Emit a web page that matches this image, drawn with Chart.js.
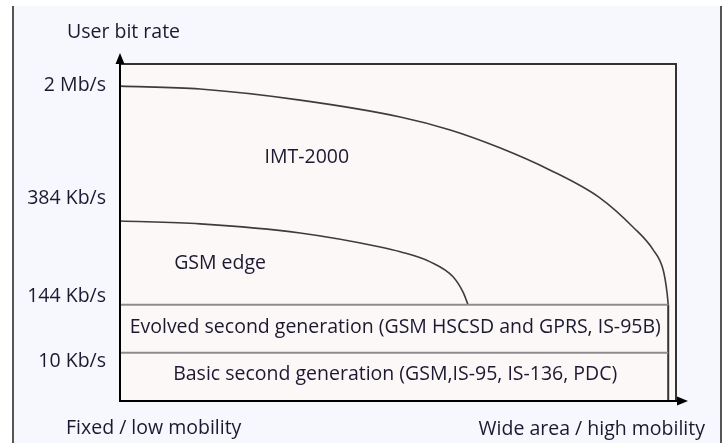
<!DOCTYPE html>
<html>
<head>
<meta charset="utf-8">
<script src="https://cdn.jsdelivr.net/npm/chart.js@4.4.0/dist/chart.umd.min.js"></script>
<style>
  html, body { margin: 0; padding: 0; background: #fff; }
  #wrap { position: relative; width: 722px; height: 443px; }
  #frame { position: absolute; left: 12px; top: 6px; width: 706px; height: 437px;
           background: #f6f8fd; border-left: 2px solid #555; border-right: 2px solid #555; }
  #chart { position: absolute; left: 0; top: 0; }
</style>
</head>
<body>
<div id="wrap">
  <div id="frame"></div>
  <canvas id="chart" width="722" height="443"></canvas>
</div>
<script>
// Skala schematyczna: oś y w "poziomach", oś x w procentach mobilności
const yTickValues = [0.83, 2.17, 4.21, 6.56];
const yTickLabels = ['10 Kb/s', '144 Kb/s', '384 Kb/s', '2 Mb/s'];

// Krzywa IMT-2000
const imtX = [0, 14.4, 32.4, 50.4, 59.4, 68.3, 77.3, 86.3, 92.3, 95.9, 97.7, 98.4, 98.6];
const imtY = [6.54, 6.48, 6.25, 5.90, 5.63, 5.26, 4.80, 4.22, 3.61, 3.14, 2.72, 2.24, 2.0];

// Krzywa GSM edge
const gsmX = [0, 14.4, 32.4, 46.8, 50.4, 55.8, 59.9, 61.7, 62.6];
const gsmY = [3.74, 3.68, 3.49, 3.20, 3.10, 2.89, 2.58, 2.26, 2.0];

// Pasy drugiej generacji
const bandLevels = [2, 1];
const bandEndX = 98.6;

// Opisy obszarów
const regionNames = ['IMT-2000', 'GSM edge',
  'Evolved second generation (GSM HSCSD and GPRS, IS-95B)',
  'Basic second generation (GSM,IS-95, IS-136, PDC)'];
const regionX = [33.6, 18, 49.5, 49.5];
const regionY = [5.05, 2.85, 1.52, 0.55];

const yTitle = 'User bit rate';
const xStartLabel = 'Fixed / low mobility';
const xEndLabel = 'Wide area / high mobility';

const FONT = '"Open Sans", sans-serif';
const FONT_SIZE = 19.5;
const TEXT = '#1b1930';

function toPoints(xs, ys) {
  return xs.map((x, i) => ({ x: x, y: ys[i] }));
}

const lineStyle = { pointRadius: 0, fill: false, borderCapStyle: 'butt' };

const datasets = [];
bandLevels.forEach(level => {
  datasets.push(Object.assign({
    data: [{ x: 0, y: level }, { x: bandEndX, y: level }],
    borderColor: '#8c8c8c', borderWidth: 2
  }, lineStyle));
});
datasets.push(Object.assign({
  data: [{ x: bandEndX, y: 0 }, { x: bandEndX, y: bandLevels[0] }],
  borderColor: '#333', borderWidth: 2
}, lineStyle));
datasets.push(Object.assign({
  data: toPoints(imtX, imtY), borderColor: '#3c3c3c', borderWidth: 1.6,
  cubicInterpolationMode: 'monotone'
}, lineStyle));
datasets.push(Object.assign({
  data: toPoints(gsmX, gsmY), borderColor: '#3c3c3c', borderWidth: 1.6,
  cubicInterpolationMode: 'monotone'
}, lineStyle));

// Tło obszaru, ramka, strzałki osi i napisy
const schemePlugin = {
  id: 'scheme',
  beforeDraw(chart) {
    const { ctx, chartArea: a } = chart;
    ctx.save();
    ctx.fillStyle = '#fdf8f8';
    ctx.fillRect(a.left, a.top, a.right - a.left, a.bottom - a.top);
    ctx.restore();
  },
  afterDatasetsDraw(chart) {
    const { ctx, chartArea: a } = chart;
    const xs = chart.scales.x, ys = chart.scales.y;
    ctx.save();
    // górna i prawa krawędź
    ctx.strokeStyle = '#333';
    ctx.lineWidth = 2;
    ctx.beginPath();
    ctx.moveTo(a.left, a.top);
    ctx.lineTo(a.right, a.top);
    ctx.lineTo(a.right, a.bottom);
    ctx.stroke();
    // osie
    ctx.strokeStyle = '#000';
    ctx.beginPath();
    ctx.moveTo(a.left, a.top - 4);
    ctx.lineTo(a.left, a.bottom);
    ctx.lineTo(a.right + 4, a.bottom);
    ctx.stroke();
    ctx.fillStyle = '#000';
    ctx.beginPath();
    ctx.moveTo(a.left, a.top - 11);
    ctx.lineTo(a.left - 4.5, a.top);
    ctx.lineTo(a.left + 4.5, a.top);
    ctx.closePath();
    ctx.fill();
    ctx.beginPath();
    ctx.moveTo(a.right + 12, a.bottom);
    ctx.lineTo(a.right + 1, a.bottom - 4.5);
    ctx.lineTo(a.right + 1, a.bottom + 4.5);
    ctx.closePath();
    ctx.fill();

    ctx.fillStyle = TEXT;
    ctx.font = FONT_SIZE + 'px ' + FONT;
    ctx.textBaseline = 'middle';
    ctx.textAlign = 'center';
    regionNames.forEach((name, i) => {
      ctx.fillText(name, xs.getPixelForValue(regionX[i]), ys.getPixelForValue(regionY[i]));
    });
    ctx.textAlign = 'left';
    ctx.fillText(yTitle, a.left - 53, a.top - 32);
    ctx.fillText(xStartLabel, a.left - 54, a.bottom + 27);
    ctx.textAlign = 'right';
    ctx.fillText(xEndLabel, a.right + 29, a.bottom + 28);
    ctx.restore();
  }
};

new Chart(document.getElementById('chart'), {
  type: 'line',
  data: { datasets: datasets },
  options: {
    responsive: false,
    animation: false,
    devicePixelRatio: 1,
    layout: { padding: { left: 0, top: 64, right: 46, bottom: 42 } },
    plugins: { legend: { display: false }, tooltip: { enabled: false } },
    scales: {
      x: { type: 'linear', min: 0, max: 100, display: false },
      y: {
        type: 'linear', min: 0, max: 7,
        grid: { display: false, drawTicks: false },
        border: { display: false },
        afterFit: function (s) { s.width = 120; },
        afterBuildTicks: function (s) { s.ticks = yTickValues.map(v => ({ value: v })); },
        ticks: {
          padding: 14,
          color: TEXT,
          font: { family: FONT, size: FONT_SIZE },
          callback: function (value, index) { return yTickLabels[index]; }
        }
      }
    }
  },
  plugins: [schemePlugin]
});
</script>
</body>
</html>
